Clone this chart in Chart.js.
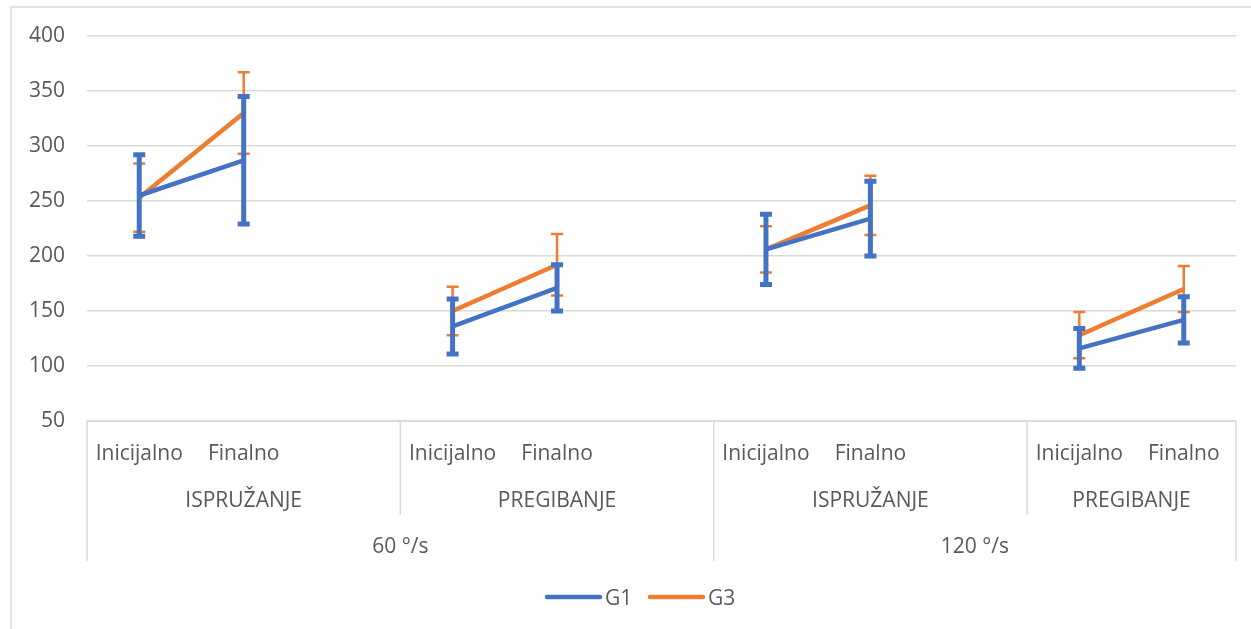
<!DOCTYPE html>
<html>
<head>
<meta charset="utf-8">
<script src="https://cdn.jsdelivr.net/npm/chart.js@4/dist/chart.umd.min.js"></script>
<style>
  body { margin: 0; background: #fff; }
  #wrap { width: 1251px; height: 629px; }
</style>
</head>
<body>
<div id="wrap"><canvas id="grafico" width="1251" height="629"></canvas></div>
<script>
// categorias
var fases = ["Inicijalno", "Finalno"];
var pokreti = ["ISPRUŽANJE", "PREGIBANJE", "ISPRUŽANJE", "PREGIBANJE"];
var brzine = ["60 °/s", "120 °/s"];

// vrijednosti (srednja vrijednost i greska)
var g1 = [255, 287, 136, 171, 206, 234, 116, 142];
var g1Err = [37, 58, 25, 21, 32, 34, 18, 21];
var g3 = [253, 330, 150, 192, 206, 246, 128, 170];
var g3Err = [31, 37, 22, 28, 21, 27, 21, 21];

var yMin = 50, yMax = 400, yStep = 50;

var plava = "#4472C4";
var narandzasta = "#ED7D31";
var siva = "#595959";
var mreza = "#d9d9d9";
var font = "'Open Sans', sans-serif";

// labels with a blank slot between movement groups
var labels = [];
function razmak(arr) {
  var out = [];
  for (var i = 0; i < pokreti.length; i++) {
    out.push(arr[i * 2], arr[i * 2 + 1]);
    if (i < pokreti.length - 1) out.push(null);
  }
  return out;
}
for (var i = 0; i < pokreti.length; i++) {
  labels.push(fases[0], fases[1]);
  if (i < pokreti.length - 1) labels.push("");
}

var errorBars = {
  id: "errorBars",
  afterDatasetDraw: function (chart, args) {
    var ds = chart.data.datasets[args.index];
    var meta = chart.getDatasetMeta(args.index);
    var y = chart.scales.y;
    var ctx = chart.ctx;
    ctx.save();
    ctx.strokeStyle = ds.borderColor;
    for (var j = 0; j < ds.data.length; j++) {
      if (ds.data[j] == null) continue;
      var px = meta.data[j].x;
      var top = y.getPixelForValue(ds.data[j] + ds.err[j]);
      var bot = y.getPixelForValue(ds.data[j] - ds.err[j]);
      ctx.lineWidth = ds.stem;
      ctx.beginPath();
      ctx.moveTo(px, top); ctx.lineTo(px, bot);
      ctx.stroke();
      ctx.lineWidth = ds.cap;
      ctx.beginPath();
      ctx.moveTo(px - 6, top); ctx.lineTo(px + 6, top);
      ctx.moveTo(px - 6, bot); ctx.lineTo(px + 6, bot);
      ctx.stroke();
    }
    ctx.restore();
  }
};

var osa = {
  id: "osa",
  afterDraw: function (chart) {
    var ctx = chart.ctx;
    var a = chart.chartArea;
    var x = chart.scales.x;
    var w = x.getPixelForValue(1) - x.getPixelForValue(0);
    ctx.save();
    // chart border (left and top)
    ctx.strokeStyle = mreza;
    ctx.lineWidth = 1.5;
    ctx.beginPath();
    ctx.moveTo(11, 629); ctx.lineTo(11, 7); ctx.lineTo(1251, 7);
    ctx.stroke();

    // axis line + boxes
    ctx.beginPath();
    ctx.moveTo(a.left, a.bottom); ctx.lineTo(a.right, a.bottom);
    ctx.moveTo(a.left, a.bottom); ctx.lineTo(a.left, 561);
    ctx.moveTo(a.right, a.bottom); ctx.lineTo(a.right, 561);
    var granice = [a.left];
    for (var g = 0; g < pokreti.length - 1; g++) {
      var bx = x.getPixelForValue(g * 3 + 2) + w / 2;
      granice.push(bx);
      var doKraja = (g % 2 == 1);
      ctx.moveTo(bx, a.bottom); ctx.lineTo(bx, doKraja ? 561 : 515);
    }
    granice.push(a.right);
    ctx.stroke();

    ctx.fillStyle = siva;
    ctx.font = "21px " + font;
    ctx.textAlign = "center";
    ctx.textBaseline = "alphabetic";
    for (var k = 0; k < labels.length; k++) {
      if (labels[k]) ctx.fillText(labels[k], x.getPixelForValue(k), 460);
    }
    for (var m = 0; m < pokreti.length; m++) {
      ctx.fillText(pokreti[m], (granice[m] + granice[m + 1]) / 2, 507);
    }
    for (var s = 0; s < brzine.length; s++) {
      ctx.fillText(brzine[s], (granice[s * 2] + granice[s * 2 + 2]) / 2, 553);
    }

    // legend
    var stavke = [[chart.data.datasets[0], 547], [chart.data.datasets[1], 650]];
    ctx.textAlign = "left";
    ctx.lineCap = "round";
    stavke.forEach(function (st) {
      ctx.strokeStyle = st[0].borderColor;
      ctx.lineWidth = 4.5;
      ctx.beginPath();
      ctx.moveTo(st[1], 597); ctx.lineTo(st[1] + 53, 597);
      ctx.stroke();
      ctx.fillText(st[0].label, st[1] + 58, 605);
    });
    ctx.restore();
  }
};

new Chart("grafico", {
  type: "line",
  data: {
    labels: labels,
    datasets: [{
      label: "G1",
      data: razmak(g1),
      err: razmak(g1Err),
      borderColor: plava,
      backgroundColor: plava,
      borderWidth: 4.5,
      stem: 5,
      cap: 5,
      pointRadius: 0,
      spanGaps: false,
      fill: false,
      tension: 0
    }, {
      label: "G3",
      data: razmak(g3),
      err: razmak(g3Err),
      borderColor: narandzasta,
      backgroundColor: narandzasta,
      borderWidth: 4.5,
      stem: 2.5,
      cap: 2.5,
      pointRadius: 0,
      spanGaps: false,
      fill: false,
      tension: 0
    }]
  },
  options: {
    responsive: false,
    animation: false,
    layout: { padding: { left: 11, right: 15, top: 36, bottom: 208 } },
    plugins: { legend: { display: false }, tooltip: { enabled: false } },
    scales: {
      x: { display: false, offset: true },
      y: {
        min: yMin,
        max: yMax,
        afterFit: function (sc) { sc.width = 76; },
        border: { display: false },
        grid: { color: mreza, lineWidth: 1.5, drawTicks: false },
        ticks: {
          stepSize: yStep,
          padding: 22,
          color: siva,
          font: { family: font, size: 21 }
        }
      }
    }
  },
  plugins: [errorBars, osa]
});
</script>
</body>
</html>
